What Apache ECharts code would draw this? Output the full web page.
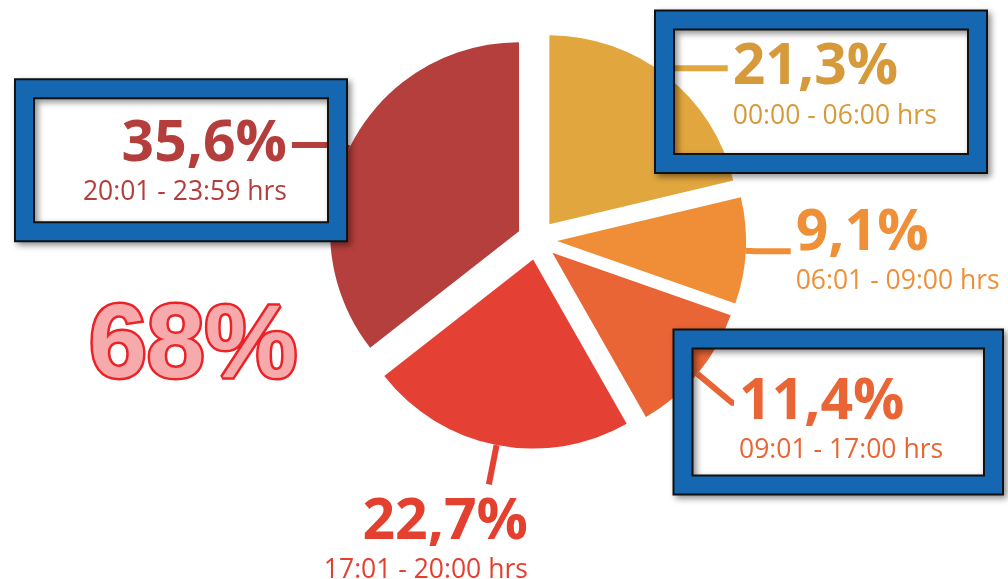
<!DOCTYPE html>
<html lang="en">
<head>
    <meta charset="UTF-8">
    <title>Share by time of day</title>
    <script type="text/javascript" src="https://cdn.jsdelivr.net/npm/echarts@6/dist/echarts.min.js"></script>
    <style>html, body { margin: 0; background: #fff; }</style>
</head>
<body>
    <div id="main" style="width: 1008px; height: 579px"></div>
    <script type="text/javascript">
        // data
        var periods = ['00:00 - 06:00 hrs', '06:01 - 09:00 hrs', '09:01 - 17:00 hrs', '17:01 - 20:00 hrs', '20:01 - 23:59 hrs'];
        var shares = [21.3, 9.1, 11.4, 22.7, 35.6];
        var boxed = [true, false, true, false, true];

        // styles
        var sliceColors = ['#E2A63E', '#EF8E37', '#EA6535', '#E44034', '#B43F3C'];
        var textColors = ['#D69A3A', '#EF9038', '#EA6535', '#E3402F', '#B43E3C'];
        var lineLen = [10, 10, 45, 40, 8];
        var lineLen2 = [55, 35, 2, 0, 50];
        var labelPad = [40, 0, 40, 40, 40];
        var labelShift = [[0, 0], [0, 2], [0, 0], [44, 38], [0, 0]];
        var boxRects = [[664.5, 20, 313, 143.5], [683, 339, 310.5, 146], [24.5, 88.7, 313, 143]];

        var boxedSum = 0;
        shares.forEach(function (v, i) { if (boxed[i]) boxedSum += v; });

        var font = "'Open Sans', sans-serif";
        var myChart = echarts.init(document.getElementById('main'));

        var graphics = [];
        boxRects.forEach(function (b) {
            graphics.push({
                type: 'rect', z: 10,
                shape: { x: b[0], y: b[1], width: b[2], height: b[3] },
                style: {
                    fill: 'none', stroke: '#111', lineWidth: 21,
                    shadowBlur: 6, shadowOffsetX: 3, shadowOffsetY: 3, shadowColor: 'rgba(0,0,0,0.45)'
                }
            });
            graphics.push({
                type: 'rect', z: 11,
                shape: { x: b[0], y: b[1], width: b[2], height: b[3] },
                style: { fill: 'none', stroke: '#1467B0', lineWidth: 17 }
            });
        });
        graphics.push({
            type: 'text', z: 12,
            style: {
                text: Math.round(boxedSum) + '%',
                x: 89, y: 348,
                verticalAlign: 'middle',
                font: "bold 104px 'Liberation Sans', Arial, sans-serif",
                fill: '#F7AAAC', stroke: '#EC2227', lineWidth: 5
            }
        });

        myChart.setOption({
            backgroundColor: '#fff',
            animation: false,
            graphic: graphics,
            series: [{
                type: 'pie',
                center: [537, 240],
                radius: 189,
                startAngle: 90,
                selectedMode: 'multiple',
                selectedOffset: 20,
                avoidLabelOverlap: false,
                emphasis: { disabled: true },
                label: {
                    show: true,
                    position: 'outside',
                    distanceToLabelLine: 5,
                    fontFamily: font,
                    formatter: function (p) {
                        return '{p|' + p.value.toFixed(1).replace('.', ',') + '%}\n{t|' + p.name + '}';
                    },
                    rich: {
                        p: { fontSize: 57, fontWeight: 'bold', lineHeight: 56, fontFamily: font },
                        t: { fontSize: 26.5, lineHeight: 40, fontFamily: font }
                    }
                },
                labelLine: { show: true, smooth: false, lineStyle: { width: 6 } },
                labelLayout: function (p) {
                    var s = labelShift[p.dataIndex];
                    return { dx: s[0], dy: s[1] };
                },
                data: shares.map(function (v, i) {
                    return {
                        value: v,
                        name: periods[i],
                        selected: true,
                        itemStyle: { color: sliceColors[i] },
                        select: { itemStyle: { color: sliceColors[i], borderWidth: 0 } },
                        label: { color: textColors[i], padding: [labelPad[i], 0, 0, 0] },
                        labelLine: { length: lineLen[i], length2: lineLen2[i], lineStyle: { color: sliceColors[i], width: 6 } }
                    };
                })
            }]
        });
    </script>
</body>
</html>
